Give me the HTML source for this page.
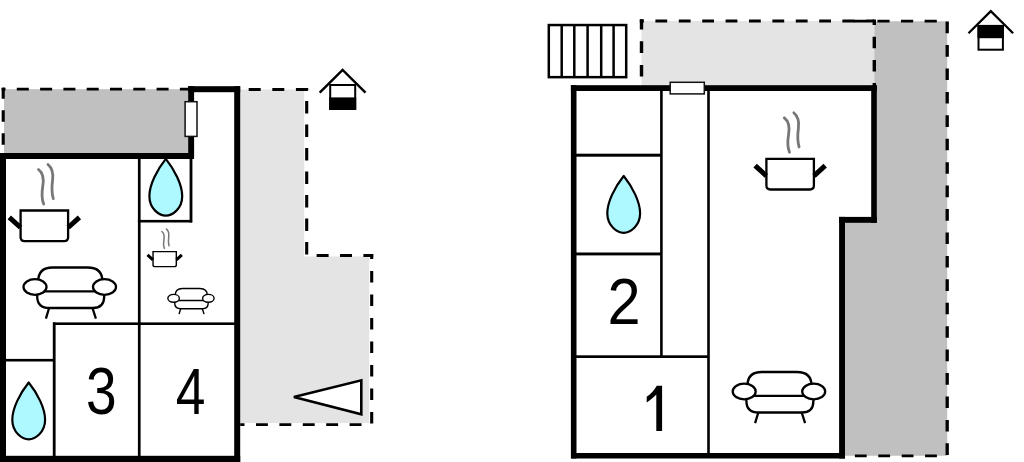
<!DOCTYPE html>
<html><head><meta charset="utf-8"><style>
html,body{margin:0;padding:0;background:#fff;width:1024px;height:462px;overflow:hidden}
svg{display:block}
text{font-family:"Liberation Sans",sans-serif}
</style></head><body>
<svg width="1024" height="462" viewBox="0 0 1024 462">
<defs>
<g id="pot">
 <path d="M19,-39.8 C23.6,-36.3 24.3,-29.3 23.3,-23.3 C22.3,-17.3 21.7,-11.3 24.2,-5.3" fill="none" stroke="#777" style="stroke-width:var(--st,2.8)" stroke-linecap="round"/>
 <path d="M28.5,-44.8 C32.6,-41.3 33.9,-35.3 33.1,-29.3 C32.3,-23.3 31.8,-17.3 33.8,-10.6" fill="none" stroke="#777" style="stroke-width:var(--st,2.8)" stroke-linecap="round"/>
 <path d="M1.1,1.2 H48.6 V28 Q48.6,31.9 44.7,31.9 H5 Q1.1,31.9 1.1,28 Z" fill="#fff" stroke="#000" style="stroke-width:var(--sw,2.3)"/>
 <path d="M-10.2,8 L1,18.2 M48.7,18.2 L59.9,8" stroke="#000" style="stroke-width:var(--hw,5)" stroke-linecap="butt"/>
</g>
<g id="sofa" fill="#fff" stroke="#000" style="stroke-width:var(--sw,2.3)">
 <path d="M15.6,15 Q15.6,1.1 30,1.1 H65 Q79.8,1.1 79.8,15"/>
 <path d="M14.6,27 V30 Q14.6,41.6 27,41.6 H70 Q81.6,41.6 81.6,30 V27"/>
 <path d="M15,25 H82"/>
 <ellipse cx="12.4" cy="20.6" rx="11.5" ry="7.8"/>
 <ellipse cx="81.9" cy="20.6" rx="11.5" ry="7.8"/>
 <path d="M26.5,41.6 L23.3,52.3 M69.9,41.6 L73.3,52.3" fill="none"/>
</g>
<path id="drop" d="M0,1.2 C-8.7,12 -16.4,27 -16.4,38.5 C-16.4,51 -6.6,58 0,58 C6.6,58 16.4,51 16.4,38.5 C16.4,27 8.7,12 0,1.2 Z" fill="#aef8ff" stroke="#000" stroke-width="2.2" stroke-linejoin="round"/>
</defs>

<!-- ============ LEFT BUILDING ============ -->
<!-- dark gray patio -->
<rect x="4" y="89.2" width="186.2" height="66" fill="#c0c0c0"/>
<line x1="3.2" y1="89.2" x2="190" y2="89.2" stroke="#000" stroke-width="2.8" stroke-dasharray="12 11.3" stroke-dashoffset="-13.6"/>
<line x1="3.2" y1="87.8" x2="3.2" y2="153" stroke="#000" stroke-width="3.1" stroke-dasharray="11.6 11.4" stroke-dashoffset="0.6"/>
<line x1="1.7" y1="89.2" x2="5" y2="89.2" stroke="#000" stroke-width="2.8"/>

<!-- light gray yard -->
<path d="M240,89.6 H304.2 V256.6 H369.2 V423 H240 Z" fill="#e4e4e4"/>
<line x1="240" y1="89.5" x2="308.2" y2="89.5" stroke="#000" stroke-width="2.8" stroke-dasharray="12 11.6" stroke-dashoffset="-8.7"/>
<line x1="306.7" y1="88" x2="306.7" y2="255.5" stroke="#000" stroke-width="3.1" stroke-dasharray="12.3 11.2" stroke-dashoffset="-13.1"/>
<line x1="306.7" y1="255.5" x2="373.2" y2="255.5" stroke="#000" stroke-width="2.9" stroke-dasharray="12 11.4" stroke-dashoffset="-9.9"/>
<line x1="371.7" y1="254" x2="371.7" y2="424.6" stroke="#000" stroke-width="3.1" stroke-dasharray="11.7 11.8" stroke-dashoffset="-16.9"/>
<line x1="240.2" y1="424.6" x2="372" y2="424.6" stroke="#000" stroke-width="2.9" stroke-dasharray="11.9 11.5" stroke-dashoffset="7.6"/>
<path d="M293.9,396.9 L361.3,380.3 V414.2 Z" fill="#fff" stroke="#000" stroke-width="2.6" stroke-linejoin="miter"/>

<!-- thick walls -->
<g fill="#000">
 <rect x="0" y="153" width="194" height="6"/>
 <rect x="188.2" y="86.2" width="5.9" height="72"/>
 <rect x="188.2" y="86.2" width="52" height="6"/>
 <rect x="234.2" y="86.2" width="6" height="376"/>
 <rect x="0" y="153" width="6" height="309"/>
 <rect x="0" y="455.8" width="240.2" height="7"/>
</g>
<!-- window -->
<rect x="185.1" y="101.7" width="11.9" height="34.7" fill="#fff" stroke="#111" stroke-width="1.5"/>
<!-- thin walls -->
<g fill="#000">
 <rect x="137.9" y="158" width="2.7" height="298"/>
 <rect x="189.6" y="158" width="2.8" height="64.5"/>
 <rect x="137.9" y="219.9" width="54.2" height="2.6"/>
 <rect x="53" y="322.4" width="182" height="2.6"/>
 <rect x="52.8" y="322.4" width="2.8" height="134"/>
 <rect x="5" y="358.9" width="49" height="2.6"/>
</g>

<use href="#drop" x="165.8" y="157.7"/>
<use href="#drop" x="28.7" y="381.3"/>
<use href="#pot" x="19.5" y="209.3"/>
<use href="#pot" transform="translate(152.5,251) scale(0.49)" style="--st:3.1;--sw:2.9;--hw:6.2"/>
<use href="#sofa" x="22.6" y="266.4"/>
<use href="#sofa" transform="translate(167.4,288) scale(0.5)" style="--sw:2.8"/>

<text transform="translate(86.1,414) scale(0.834,1)" font-size="66">3</text>
<text transform="translate(175.7,413.7) scale(0.827,1)" font-size="64.5">4</text>

<!-- left house icon -->
<g>
 <path d="M319.7,92.7 L342.6,69.9 L365.5,92.7" fill="none" stroke="#000" stroke-width="2.4"/>
 <rect x="330.2" y="85" width="25" height="24" fill="#fff" stroke="#000" stroke-width="2"/>
 <rect x="329.2" y="97.4" width="27" height="12.6" fill="#000"/>
</g>

<!-- ============ RIGHT BUILDING ============ -->
<!-- stairs -->
<g fill="none" stroke="#000" stroke-width="2.5">
 <rect x="548.8" y="25.05" width="77.4" height="52.1"/>
 <path d="M561.7,25 V77 M574.3,25 V77 M587.6,25 V77 M601.2,25 V77 M613.6,25 V77"/>
</g>

<!-- light gray top -->
<rect x="641.5" y="20.9" width="232.8" height="67" fill="#e4e4e4"/>
<!-- dark gray right -->
<path d="M874.3,21.2 H947.2 V455.8 H842 V220 H874.3 Z" fill="#c0c0c0"/>

<line x1="640.2" y1="20.9" x2="874" y2="20.9" stroke="#000" stroke-width="3" stroke-dasharray="11.8 11.6" stroke-dashoffset="-15.2"/>
<line x1="639.8" y1="20.9" x2="643.3" y2="20.9" stroke="#000" stroke-width="3"/>
<line x1="641.5" y1="19.4" x2="641.5" y2="86" stroke="#000" stroke-width="3.4" stroke-dasharray="11.7 11.9" stroke-dashoffset="-21.9"/>
<line x1="874.3" y1="19.5" x2="874.3" y2="86" stroke="#000" stroke-width="3.4" stroke-dasharray="11.6 11.6" stroke-dashoffset="-17.2"/>
<line x1="842" y1="21.2" x2="947" y2="21.2" stroke="#000" stroke-width="2.8" stroke-dasharray="12.2 11.4" stroke-dashoffset="-11.8"/>
<line x1="947.2" y1="19.8" x2="947.2" y2="455.4" stroke="#000" stroke-width="3.3" stroke-dasharray="11.6 11.83" stroke-dashoffset="-1.8"/>
<line x1="948.5" y1="455.8" x2="845" y2="455.8" stroke="#000" stroke-width="2.8" stroke-dasharray="11.8 11.6" stroke-dashoffset="-11.6"/>

<!-- thick walls -->
<g fill="#000">
 <rect x="570.9" y="85.2" width="305.9" height="5.8"/>
 <rect x="570.9" y="85.2" width="5.6" height="373.3"/>
 <rect x="871.2" y="85.5" width="5.6" height="137.3"/>
 <rect x="839.1" y="216.9" width="37.7" height="5.9"/>
 <rect x="839.1" y="216.9" width="5.9" height="241.6"/>
 <rect x="571.3" y="453" width="273.7" height="5.5"/>
</g>
<!-- thin walls -->
<g fill="#000">
 <rect x="660.1" y="90" width="2.6" height="268"/>
 <rect x="707.2" y="90" width="2.6" height="364"/>
 <rect x="576" y="153.7" width="85" height="3"/>
 <rect x="576" y="252.5" width="85" height="2.9"/>
 <rect x="576" y="355.3" width="133" height="2.7"/>
</g>
<!-- window -->
<rect x="670.2" y="82.3" width="34.1" height="11.6" fill="#fff" stroke="#111" stroke-width="1.5"/>

<use href="#drop" x="623.7" y="174.8"/>
<use href="#pot" x="765.3" y="157.6"/>
<use href="#sofa" x="731.8" y="370.9"/>

<text transform="translate(607.6,323.7) scale(0.923,1)" font-size="64.5">2</text>
<path d="M662.1,385.8 V430.9 H656.3 V394.5 C653.5,397.5 650,400.5 646.7,402.4 V396.8 C651,394 654.5,390 656.8,385.8 Z" fill="#000"/>

<!-- right house icon -->
<g>
 <path d="M968.5,33.2 L990.8,11.1 L1013.1,33.2" fill="none" stroke="#000" stroke-width="2.3"/>
 <rect x="978.5" y="26" width="24.4" height="23.7" fill="#fff" stroke="#000" stroke-width="2"/>
 <rect x="977.5" y="24.9" width="26.4" height="13.3" fill="#000"/>
</g>
</svg>
</body></html>
